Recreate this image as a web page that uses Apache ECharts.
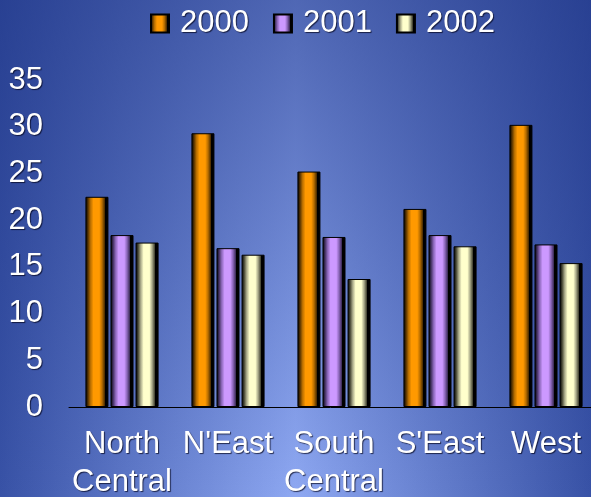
<!DOCTYPE html>
<html>
<head>
<meta charset="UTF-8">
<style>
    html, body { margin: 0; padding: 0; }
    #chart { width: 591px; height: 497px; }
</style>
</head>
<body>
<div id="chart"></div>
<script src="https://cdn.jsdelivr.net/npm/echarts@6/dist/echarts.min.js"></script>
<script>
    // data
    const regions = ['North\nCentral', "N'East", 'South\nCentral', "S'East", 'West'];
    const years = ['2000', '2001', '2002'];
    const v2000 = [22.5, 29.3, 25.2, 21.2, 30.2];
    const v2001 = [18.4, 17.0, 18.2, 18.4, 17.4];
    const v2002 = [17.6, 16.3, 13.7, 17.2, 15.4];
    const yTicks = [0, 5, 10, 15, 20, 25, 30, 35];

    // cylinder-like shading across each bar
    function tube(dark, mid, base) {
        return new echarts.graphic.LinearGradient(0, 0, 1, 0, [
            { offset: 0, color: '#000' },
            { offset: 0.1, color: dark },
            { offset: 0.22, color: mid },
            { offset: 0.35, color: base },
            { offset: 0.6, color: base },
            { offset: 0.72, color: mid },
            { offset: 0.84, color: dark },
            { offset: 0.86, color: '#000' },
            { offset: 1, color: '#000' }
        ]);
    }
    const fills = [
        tube('#4a2c00', '#b86e00', '#ff9900'),
        tube('#3a2a55', '#8a66b8', '#cc99ff'),
        tube('#3d3d2c', '#a8a888', '#ffffcc')
    ];
    const values = [v2000, v2001, v2002];

    const shadow = {
        color: '#fff',
        textShadowColor: 'rgba(0,0,20,0.7)',
        textShadowOffsetX: 1,
        textShadowOffsetY: 1,
        textShadowBlur: 1
    };

    const chart = echarts.init(document.getElementById('chart'));
    chart.setOption({
        // light in the bottom middle, darker toward the sides and the top
        backgroundColor: new echarts.graphic.LinearGradient(0, 0, 1, 0, [
            { offset: 0, color: '#3852a6' },
            { offset: 0.5, color: '#8ea8f2' },
            { offset: 1, color: '#3852a6' }
        ]),
        graphic: [{
            type: 'rect',
            z: -10,
            silent: true,
            shape: { x: 0, y: 0, width: 591, height: 497 },
            style: {
                fill: new echarts.graphic.LinearGradient(0, 0, 0, 1, [
                    { offset: 0, color: 'rgba(28,50,130,0.55)' },
                    { offset: 1, color: 'rgba(28,50,130,0)' }
                ])
            }
        }],
        animation: false,
        legend: {
            data: years,
            left: 150,
            top: 8,
            padding: 0,
            itemWidth: 18,
            itemHeight: 18,
            itemGap: 24,
            icon: 'rect',
            textStyle: Object.assign({ fontSize: 31, fontFamily: 'Liberation Sans', padding: [0, 0, 0, 6] }, shadow)
        },
        grid: { left: 69, width: 530, top: 80, bottom: 90, outerBoundsMode: 'none', containLabel: false },
        xAxis: {
            type: 'category',
            data: regions,
            axisLine: { lineStyle: { color: '#000', width: 1 } },
            axisTick: { show: false },
            axisLabel: Object.assign({
                fontSize: 31,
                fontFamily: 'Liberation Sans',
                lineHeight: 38,
                margin: 18,
                interval: 0
            }, shadow)
        },
        yAxis: {
            type: 'value',
            min: yTicks[0],
            max: yTicks[yTicks.length - 1],
            interval: 5,
            axisLine: { show: false },
            axisTick: { show: false },
            splitLine: { show: false },
            axisLabel: Object.assign({ fontSize: 31, fontFamily: 'Liberation Sans', margin: 26 }, shadow)
        },
        series: years.map((y, i) => ({
            name: y,
            type: 'bar',
            data: values[i],
            barWidth: 23,
            barGap: '9%',
            itemStyle: { color: fills[i], borderColor: '#000', borderWidth: 1 }
        }))
    });
</script>
</body>
</html>
